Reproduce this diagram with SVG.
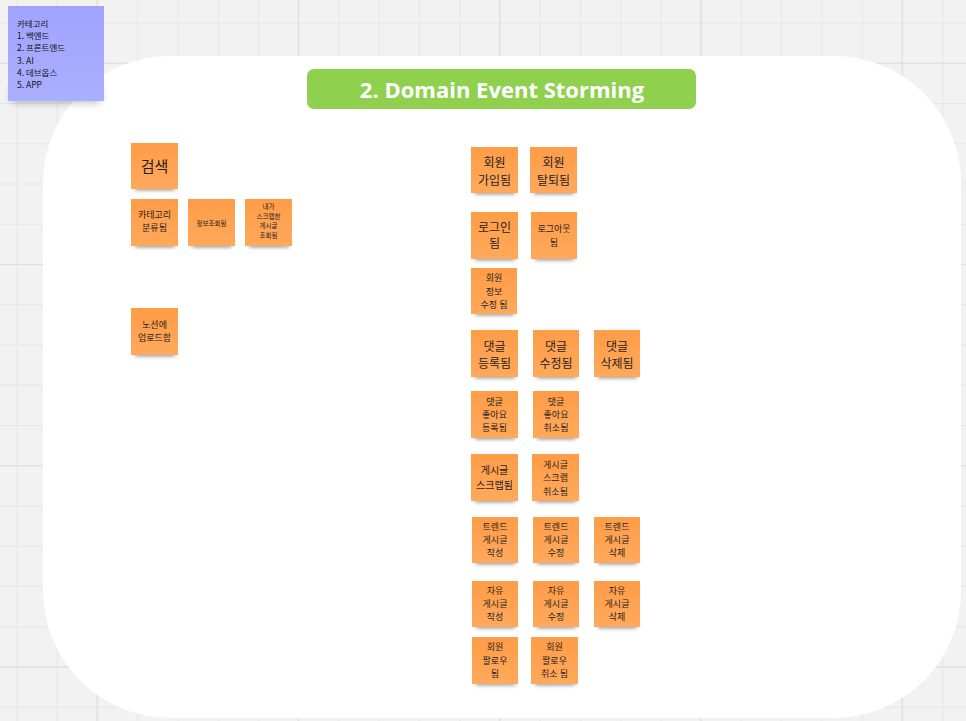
<svg xmlns="http://www.w3.org/2000/svg" width="966" height="721" viewBox="0 0 966 721">
<defs>
<pattern id="minor" width="40.25" height="40.25" patternUnits="userSpaceOnUse" x="16.5" y="22.5">
<path d="M0 0.5H40.25M0.5 0V40.25" stroke="#e6e6e6" stroke-width="1" fill="none"/>
</pattern>
<pattern id="major" width="201.25" height="201.25" patternUnits="userSpaceOnUse" x="96.5" y="62.5">
<path d="M0 0.5H201.25M0.5 0V201.25" stroke="#dedede" stroke-width="1.5" fill="none"/>
</pattern>
<linearGradient id="og" x1="0" y1="0" x2="0" y2="1">
<stop offset="0" stop-color="#ff9c47"/>
<stop offset="1" stop-color="#ffa95c"/>
</linearGradient>
<linearGradient id="bg" x1="0" y1="0" x2="0" y2="1">
<stop offset="0" stop-color="#9fa3fd"/>
<stop offset="1" stop-color="#abafff"/>
</linearGradient>
<filter id="blur" x="-30%" y="-100%" width="160%" height="300%">
<feGaussianBlur stdDeviation="2"/>
</filter>
<filter id="blur2" x="-30%" y="-100%" width="160%" height="300%">
<feGaussianBlur stdDeviation="4"/>
</filter>
</defs>
<style>
.sh{fill:#000;opacity:0.45;filter:url(#blur)}
.st{fill:url(#og)}
.t{font-family:"Noto Sans CJK KR","Noto Sans",sans-serif;fill:#1f1f1f;text-anchor:middle;dominant-baseline:central}
.f15{font-size:15px}
.f12{font-size:12px}
.f10{font-size:10px}
.f9{font-size:9px}
.f7{font-size:6.5px}
.bt{font-family:"Noto Sans CJK KR","Noto Sans",sans-serif;font-size:8.5px;fill:#111;dominant-baseline:central}
</style>
<rect width="966" height="721" fill="#f2f2f2"/>
<rect width="966" height="721" fill="url(#minor)"/>
<rect width="966" height="721" fill="url(#major)"/>
<rect x="43" y="56" width="918" height="662" rx="127" ry="127" fill="#ffffff"/>

<g id="legend">
<rect x="12" y="88" width="88" height="14" class="sh" style="opacity:0.3;filter:url(#blur2)"/>
<rect x="8" y="6" width="96" height="95" fill="url(#bg)"/>
<text class="bt" x="17" y="22.7">카테고리</text>
<text class="bt" x="17" y="35">1. 백엔드</text>
<text class="bt" x="17" y="47.3">2. 프론트엔드</text>
<text class="bt" x="17" y="59.6">3. AI</text>
<text class="bt" x="17" y="71.9">4. 데브옵스</text>
<text class="bt" x="17" y="84.2">5. APP</text>
</g>

<g id="title">
<rect x="307" y="69" width="389" height="40" rx="7" fill="#8fd14f"/>
<text x="502" y="89" font-family="'Open Sans','Noto Sans',sans-serif" font-weight="bold" font-size="22" fill="#ffffff" text-anchor="middle" dominant-baseline="central">2. Domain Event Storming</text>
</g>

<g id="n-search">
<rect x="135" y="184" width="40" height="6" class="sh"/>
<rect x="131" y="143" width="47" height="46" class="st"/>
<text class="t f15" x="154.5" y="165">검색</text>
</g>
<g id="n-category">
<rect x="135" y="241" width="40" height="6" class="sh"/>
<rect x="131" y="199" width="47" height="47" class="st"/>
<text class="t f9" x="154.5" y="214.5">카테고리</text>
<text class="t f9" x="154.5" y="227.5">분류됨</text>
</g>
<g id="n-info">
<rect x="192" y="241" width="40" height="6" class="sh"/>
<rect x="188" y="199" width="47" height="47" class="st"/>
<text class="t f7" x="211.5" y="222.5">정보조회됨</text>
</g>
<g id="n-scrapview">
<rect x="249" y="241" width="40" height="6" class="sh"/>
<rect x="245" y="199" width="47" height="47" class="st"/>
<text class="t f7" x="268.5" y="206">내가</text>
<text class="t f7" x="268.5" y="215.7">스크랩한</text>
<text class="t f7" x="268.5" y="225.4">게시글</text>
<text class="t f7" x="268.5" y="235.1">조회됨</text>
</g>
<g id="n-notion">
<rect x="135" y="350" width="40" height="6" class="sh"/>
<rect x="131" y="308" width="47" height="47" class="st"/>
<text class="t f9" x="154.5" y="324.5">노션에</text>
<text class="t f9" x="154.5" y="337.5">업로드함</text>
</g>

<g id="n-signup">
<rect x="475" y="188" width="40" height="6" class="sh"/>
<rect x="471" y="147" width="47" height="46" class="st"/>
<text class="t f12" x="494.5" y="161">회원</text>
<text class="t f12" x="494.5" y="179">가입됨</text>
</g>
<g id="n-withdraw">
<rect x="534" y="188" width="40" height="6" class="sh"/>
<rect x="530" y="147" width="47" height="46" class="st"/>
<text class="t f12" x="553.5" y="161">회원</text>
<text class="t f12" x="553.5" y="179">탈퇴됨</text>
</g>
<g id="n-login">
<rect x="475" y="254" width="40" height="6" class="sh"/>
<rect x="471" y="212" width="47" height="47" class="st"/>
<text class="t f12" x="494.5" y="226">로그인</text>
<text class="t f12" x="494.5" y="242">됨</text>
</g>
<g id="n-logout">
<rect x="535" y="254" width="39" height="6" class="sh"/>
<rect x="531" y="212" width="46" height="47" class="st"/>
<text class="t f9" x="554" y="228.5">로그아웃</text>
<text class="t f9" x="554" y="242">됨</text>
</g>
<g id="n-profile">
<rect x="475" y="309" width="39" height="6" class="sh"/>
<rect x="471" y="268" width="46" height="46" class="st"/>
<text class="t f9" x="494" y="277.5">회원</text>
<text class="t f9" x="494" y="291">정보</text>
<text class="t f9" x="494" y="304.5">수정 됨</text>
</g>

<g id="n-cmt-add">
<rect x="475" y="372" width="40" height="6" class="sh"/>
<rect x="471" y="330" width="47" height="47" class="st"/>
<text class="t f12" x="494.5" y="345">댓글</text>
<text class="t f12" x="494.5" y="362">등록됨</text>
</g>
<g id="n-cmt-edit">
<rect x="537" y="372" width="39" height="6" class="sh"/>
<rect x="533" y="330" width="46" height="47" class="st"/>
<text class="t f12" x="556" y="345">댓글</text>
<text class="t f12" x="556" y="362">수정됨</text>
</g>
<g id="n-cmt-del">
<rect x="598" y="372" width="39" height="6" class="sh"/>
<rect x="594" y="330" width="46" height="47" class="st"/>
<text class="t f12" x="617" y="345">댓글</text>
<text class="t f12" x="617" y="362">삭제됨</text>
</g>

<g id="n-like-add">
<rect x="475" y="433" width="40" height="6" class="sh"/>
<rect x="471" y="391" width="47" height="47" class="st"/>
<text class="t f9" x="494.5" y="401">댓글</text>
<text class="t f9" x="494.5" y="414.2">좋아요</text>
<text class="t f9" x="494.5" y="427.4">등록됨</text>
</g>
<g id="n-like-cancel">
<rect x="537" y="433" width="39" height="6" class="sh"/>
<rect x="533" y="391" width="46" height="47" class="st"/>
<text class="t f9" x="556" y="401">댓글</text>
<text class="t f9" x="556" y="414.2">좋아요</text>
<text class="t f9" x="556" y="427.4">취소됨</text>
</g>

<g id="n-scrap">
<rect x="475" y="496" width="40" height="6" class="sh"/>
<rect x="471" y="454" width="47" height="47" class="st"/>
<text class="t f10" x="494.5" y="469">게시글</text>
<text class="t f10" x="494.5" y="484">스크랩됨</text>
</g>
<g id="n-scrap-cancel">
<rect x="536" y="496" width="40" height="6" class="sh"/>
<rect x="532" y="454" width="47" height="47" class="st"/>
<text class="t f9" x="555.5" y="464">게시글</text>
<text class="t f9" x="555.5" y="477.5">스크랩</text>
<text class="t f9" x="555.5" y="491">취소됨</text>
</g>

<g id="n-trend-add">
<rect x="476" y="558" width="39" height="6" class="sh"/>
<rect x="472" y="517" width="46" height="46" class="st"/>
<text class="t f9" x="495" y="526">트렌드</text>
<text class="t f9" x="495" y="539.3">게시글</text>
<text class="t f9" x="495" y="552.7">작성</text>
</g>
<g id="n-trend-edit">
<rect x="537" y="558" width="39" height="6" class="sh"/>
<rect x="533" y="517" width="46" height="46" class="st"/>
<text class="t f9" x="556" y="526">트렌드</text>
<text class="t f9" x="556" y="539.3">게시글</text>
<text class="t f9" x="556" y="552.7">수정</text>
</g>
<g id="n-trend-del">
<rect x="598" y="558" width="39" height="6" class="sh"/>
<rect x="594" y="517" width="46" height="46" class="st"/>
<text class="t f9" x="617" y="526">트렌드</text>
<text class="t f9" x="617" y="539.3">게시글</text>
<text class="t f9" x="617" y="552.7">삭제</text>
</g>

<g id="n-free-add">
<rect x="476" y="622" width="39" height="6" class="sh"/>
<rect x="472" y="581" width="46" height="46" class="st"/>
<text class="t f9" x="495" y="590">자유</text>
<text class="t f9" x="495" y="603.3">게시글</text>
<text class="t f9" x="495" y="616.7">작성</text>
</g>
<g id="n-free-edit">
<rect x="537" y="622" width="39" height="6" class="sh"/>
<rect x="533" y="581" width="46" height="46" class="st"/>
<text class="t f9" x="556" y="590">자유</text>
<text class="t f9" x="556" y="603.3">게시글</text>
<text class="t f9" x="556" y="616.7">수정</text>
</g>
<g id="n-free-del">
<rect x="598" y="622" width="39" height="6" class="sh"/>
<rect x="594" y="581" width="46" height="46" class="st"/>
<text class="t f9" x="617" y="590">자유</text>
<text class="t f9" x="617" y="603.3">게시글</text>
<text class="t f9" x="617" y="616.7">삭제</text>
</g>

<g id="n-follow">
<rect x="476" y="679" width="39" height="6" class="sh"/>
<rect x="472" y="637" width="46" height="47" class="st"/>
<text class="t f9" x="495" y="646.7">회원</text>
<text class="t f9" x="495" y="660">팔로우</text>
<text class="t f9" x="495" y="673.3">됨</text>
</g>
<g id="n-follow-cancel">
<rect x="535" y="679" width="40" height="6" class="sh"/>
<rect x="531" y="637" width="47" height="47" class="st"/>
<text class="t f9" x="554.5" y="646.7">회원</text>
<text class="t f9" x="554.5" y="660">팔로우</text>
<text class="t f9" x="554.5" y="673.3">취소 됨</text>
</g>

<g id="connectors"/>
</svg>
